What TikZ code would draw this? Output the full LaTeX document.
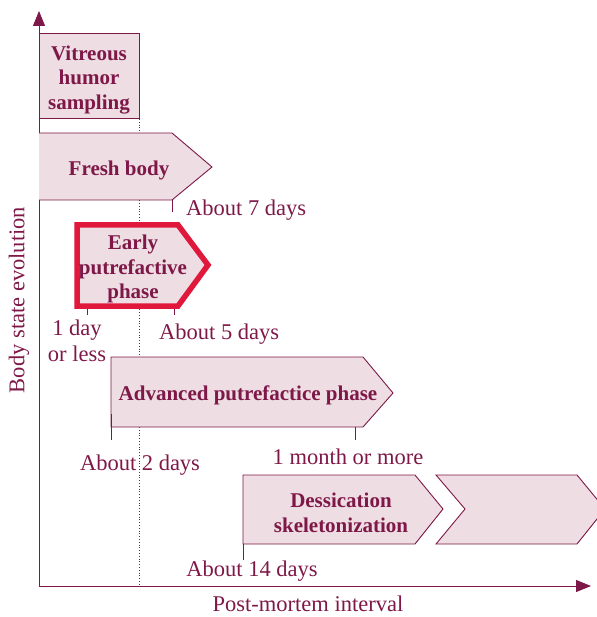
\documentclass[tikz,border=0pt]{standalone}
\usepackage{fontspec}
\setmainfont{Liberation Serif}
\usetikzlibrary{arrows.meta}
\definecolor{maroon}{HTML}{7E1848}
\definecolor{pinkfill}{HTML}{EEDDE2}
\definecolor{redline}{HTML}{E0183C}
\tikzset{
  phase/.style={draw=maroon, fill=pinkfill, line width=0.9pt},
  tick/.style={draw=maroon, line width=0.9pt},
  lbl/.style={text=maroon, font=\fontsize{22.5}{26}\selectfont, inner sep=0pt},
  ptxt/.style={text=maroon, font=\fontsize{21}{24.5}\selectfont\bfseries, align=center, inner sep=0pt},
  axis/.style={draw=maroon, line width=1pt, -{Triangle[length=15pt,width=12pt]}}
}
\begin{document}
\begin{tikzpicture}[x=1pt,y=-1pt]
\useasboundingbox (0,0) rectangle (596,617);
% dotted line
\coordinate (dtop) at (139,63);
\coordinate (dbot) at (139,584);
\draw[maroon, dotted, line width=0.8pt] (dtop) -- (dbot);
% axes
\coordinate (origin) at (39,586);
\coordinate (ytip) at (39,11);
\coordinate (xtip) at (591,586);
\draw[axis] (origin) -- (ytip);
\draw[axis] (origin) -- (xtip);
\node[lbl, rotate=90] (ylab) at (19,300) {Body state evolution};
\node[lbl] (xlab) at (308,604) {Post-mortem interval};
% Vitreous
\draw[phase] (39,33) rectangle (139,118);
\node[ptxt] (vit) at (89,80) {Vitreous\\humor\\sampling};
% Fresh body
\draw[phase] (39,133) -- (172,133) -- (212,167) -- (172,200) -- (39,200);
\node[ptxt] (fresh) at (119,170) {Fresh body};
\draw[tick] (172,200) -- (172,212);
\node[lbl, anchor=west] (a7) at (186,210) {About 7 days};
% Early putrefactive
\draw[tick] (87,305) -- (87,315);
\draw[tick] (174,305) -- (174,315);
\draw[draw=redline, fill=pinkfill, line width=5.5pt, line join=miter] (77,225) -- (178,225) -- (208,265) -- (178,306) -- (77,306) -- cycle;
\node[ptxt] (early) at (133,269) {Early\\putrefactive\\phase};
\node[lbl, align=center] (oneday) at (77,341) {1 day\\or less};
\node[lbl, anchor=west] (a5) at (159,334) {About 5 days};
% Advanced
\draw[phase] (111,357) -- (363,357) -- (393,393) -- (363,427) -- (111,427) -- cycle;
\node[ptxt] (adv) at (248,395) {Advanced putrefactice phase};
\draw[tick] (111,414) -- (111,440);
\draw[tick] (355,427) -- (355,440);
\node[lbl] (a2) at (140,465) {About 2 days};
\node[lbl] (m1) at (348,457) {1 month or more};
% Dessication
\draw[phase] (243,475) -- (415,475) -- (443,509) -- (415,544) -- (243,544) -- cycle;
\node[ptxt] (des) at (341,513) {Dessication\\skeletonization};
\draw[tick] (243,544) -- (243,560);
\node[lbl] (a14) at (252,571) {About 14 days};
% trailing chevron
\draw[phase] (436,475) -- (577,475) -- (605,509) -- (577,544) -- (436,544) -- (465,509) -- cycle;
\end{tikzpicture}
\end{document}
